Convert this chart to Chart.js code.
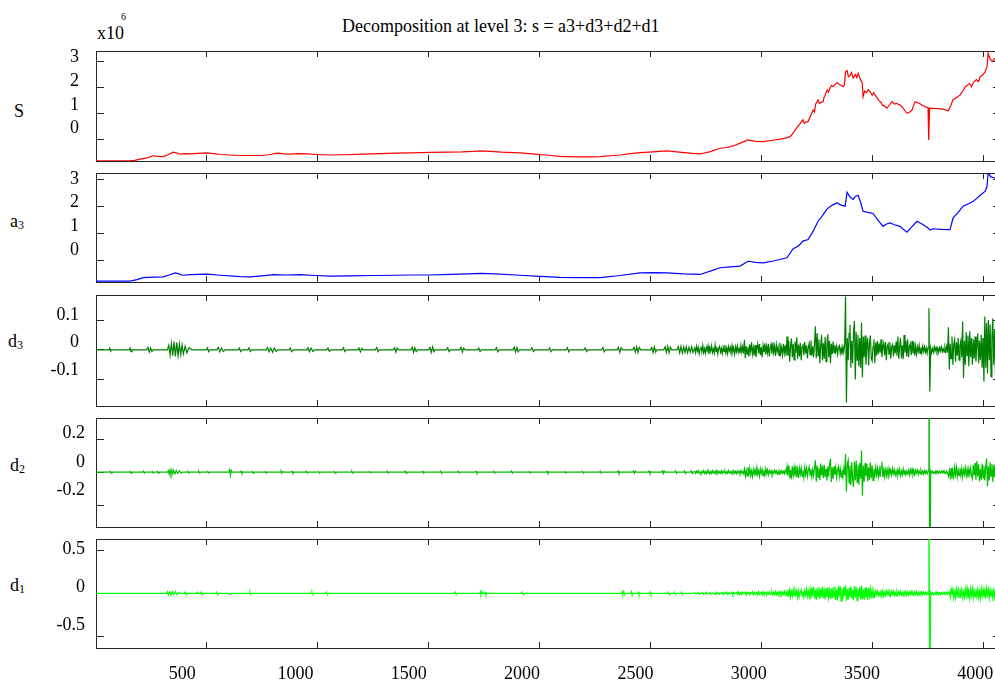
<!DOCTYPE html>
<html>
<head>
<meta charset="utf-8">
<script src="https://cdn.jsdelivr.net/npm/chart.js@4/dist/chart.umd.min.js"></script>
<style>
  html, body { margin: 0; padding: 0; width: 995px; height: 681px; overflow: hidden; background: #fff; }
  body { position: relative; }
  .txt { position: absolute; font: 18px/18px "Liberation Serif", "Times New Roman", serif; color: #000; white-space: nowrap; }
  .sub { font-size: 12px; position: relative; top: 2px; }
  canvas { position: absolute; left: 0; }
</style>
</head>
<body>
<div class="txt" style="left:342px;top:16.6px">Decomposition at level 3: s = a3+d3+d2+d1</div>
<div class="txt" style="left:97px;top:24.3px">x10</div>
<div class="txt" style="left:121px;top:12.3px;font-size:10px;line-height:10px">6</div>
<div class="txt" style="left:14px;top:102.2px">S</div>
<div class="txt" style="left:10px;top:211.6px">a<span class="sub">3</span></div>
<div class="txt" style="left:8px;top:331.6px">d<span class="sub">3</span></div>
<div class="txt" style="left:10px;top:456px">d<span class="sub">2</span></div>
<div class="txt" style="left:10px;top:576px">d<span class="sub">1</span></div>
<script>
const sampleMax = 4081;
const xTickValues = [500, 1000, 1500, 2000, 2500, 3000, 3500, 4000];

// tick values on each panel
const labelsS = [0, 1, 2, 3];
const labelsA3 = [0, 1, 2, 3];
const labelsD3 = [-0.1, 0, 0.1];
const labelsD2 = [-0.2, 0, 0.2];
const labelsD1 = [-0.5, 0, 0.5];

// signal (x1e6), sample index / value
const signalS = [
  [0, -0.84], [150, -0.84], [175, -0.82], [199, -0.77], [230, -0.72], [258, -0.64], [280, -0.66], [303, -0.67],
  [325, -0.6], [348, -0.5], [362, -0.53], [380, -0.58], [400, -0.56], [425, -0.57], [460, -0.55], [501, -0.53],
  [530, -0.56], [560, -0.59], [600, -0.61], [650, -0.63], [700, -0.63], [740, -0.63], [780, -0.6], [817, -0.54],
  [850, -0.57], [876, -0.58], [910, -0.56], [952, -0.57], [1000, -0.59], [1056, -0.61], [1120, -0.6], [1200, -0.58],
  [1280, -0.56], [1350, -0.54], [1420, -0.53], [1507, -0.51], [1580, -0.5], [1650, -0.49], [1700, -0.47], [1733, -0.45],
  [1780, -0.47], [1830, -0.5], [1913, -0.53], [1980, -0.58], [2040, -0.62], [2093, -0.66], [2160, -0.68], [2229, -0.68],
  [2274, -0.67], [2320, -0.64], [2363, -0.61], [2410, -0.56], [2453, -0.52], [2510, -0.49], [2575, -0.45], [2630, -0.5],
  [2690, -0.55], [2724, -0.57], [2770, -0.48], [2814, -0.35], [2845, -0.32], [2873, -0.26], [2905, -0.15], [2940, -0.03],
  [2975, -0.08], [3008, -0.09], [3045, -0.05], [3085, 0.0], [3110, 0.04], [3130, 0.1], [3145, 0.25], [3161, 0.46],
  [3175, 0.6], [3188, 0.75], [3194, 0.62], [3200, 0.66], [3211, 0.68], [3222, 0.9], [3234, 1.13], [3240, 1.05],
  [3245, 1.35], [3256, 1.52], [3262, 1.38], [3268, 1.42], [3279, 1.45], [3283, 1.62], [3288, 1.7], [3297, 1.9],
  [3303, 1.82], [3310, 1.97], [3317, 2.08], [3324, 2.03], [3333, 2.12], [3342, 2.19], [3355, 2.1], [3369, 2.03],
  [3375, 2.1], [3380, 2.6], [3387, 2.65], [3393, 2.42], [3400, 2.45], [3407, 2.58], [3414, 2.36], [3420, 2.44],
  [3425, 2.5], [3431, 2.38], [3437, 2.55], [3447, 2.3], [3455, 2.19], [3459, 1.64], [3466, 1.86], [3475, 1.8],
  [3483, 1.92], [3490, 1.84], [3500, 1.7], [3507, 1.8], [3513, 1.71], [3530, 1.5], [3540, 1.42], [3545, 1.32],
  [3556, 1.28], [3567, 1.2], [3580, 1.35], [3590, 1.45], [3600, 1.36], [3610, 1.38], [3626, 1.32], [3640, 1.2],
  [3650, 1.08], [3657, 1.0], [3670, 1.05], [3680, 1.13], [3693, 1.45], [3710, 1.4], [3725, 1.32], [3740, 1.25],
  [3752, 1.22], [3755, -0.03], [3759, 1.2], [3790, 1.18], [3820, 1.16], [3843, 1.1], [3855, 1.3], [3865, 1.54],
  [3880, 1.6], [3897, 1.71], [3910, 1.88], [3920, 2.03], [3940, 2.15], [3948, 2.02], [3956, 2.19], [3970, 2.3],
  [3980, 2.22], [3987, 2.42], [4000, 2.5], [4010, 2.61], [4018, 2.8], [4023, 3.32], [4032, 3.1], [4041, 3.0],
  [4054, 3.13], [4070, 3.2], [4081, 3.25]
];

// approximation a3 (x1e6)
const approxA3 = [
  [0, -0.78], [154, -0.78], [185, -0.72], [213, -0.65], [260, -0.63], [303, -0.62], [330, -0.55], [357, -0.47],
  [372, -0.5], [389, -0.56], [430, -0.54], [460, -0.53], [501, -0.52], [560, -0.56], [619, -0.59], [650, -0.61],
  [695, -0.62], [750, -0.58], [799, -0.54], [860, -0.55], [920, -0.54], [990, -0.57], [1056, -0.59], [1150, -0.58],
  [1250, -0.57], [1350, -0.56], [1420, -0.55], [1507, -0.55], [1600, -0.53], [1680, -0.51], [1733, -0.49], [1800, -0.51],
  [1913, -0.56], [2000, -0.6], [2093, -0.64], [2180, -0.65], [2274, -0.65], [2363, -0.57], [2453, -0.47], [2520, -0.46],
  [2575, -0.47], [2650, -0.51], [2724, -0.53], [2780, -0.38], [2814, -0.28], [2860, -0.25], [2904, -0.22], [2940, -0.04],
  [2975, -0.08], [3008, -0.1], [3060, -0.02], [3116, 0.09], [3143, 0.42], [3170, 0.55], [3188, 0.71], [3211, 0.77],
  [3234, 1.08], [3256, 1.45], [3275, 1.65], [3297, 1.91], [3320, 2.05], [3342, 2.13], [3360, 2.05], [3378, 2.01],
  [3387, 2.53], [3400, 2.35], [3414, 2.26], [3425, 2.38], [3437, 2.41], [3450, 2.1], [3459, 1.82], [3480, 1.78],
  [3504, 1.74], [3525, 1.5], [3549, 1.26], [3565, 1.35], [3581, 1.39], [3600, 1.32], [3626, 1.26], [3640, 1.15],
  [3657, 1.04], [3680, 1.25], [3702, 1.45], [3725, 1.35], [3752, 1.2], [3760, 1.12], [3775, 1.17], [3810, 1.15],
  [3851, 1.14], [3865, 1.58], [3885, 1.75], [3910, 2.01], [3935, 2.1], [3956, 2.19], [3985, 2.4], [4010, 2.57],
  [4018, 2.75], [4023, 3.25], [4035, 3.1], [4054, 3.06], [4081, 3.15]
];

// details: quiet stretch as index/value pairs, busy stretch sampled every 4 from 2700
const busyStart = 2700;
const busyStep = 4;

const detailD3Quiet = [
  [0, 0], [58, 0], [62, 0.005], [66, -0.005], [70, 0], [150, 0], [154, 0.006], [158, -0.006], [162, 0],
  [228, 0], [234, 0.008], [240, -0.008], [246, 0.007], [252, -0.006], [258, 0],
  [322, 0], [328, 0.015], [334, -0.018], [340, 0.022], [346, -0.02], [352, 0.028], [358, -0.022], [364, 0.024],
  [370, -0.02], [376, 0.02], [382, -0.016], [388, 0.017], [394, -0.014], [402, 0.012], [410, -0.01], [420, 0.008], [432, 0],
  [498, 0], [503, 0.007], [508, -0.006], [514, 0], [545, 0], [552, 0.008], [558, -0.007], [566, 0.006], [574, -0.006], [582, 0],
  [640, 0], [646, 0.006], [652, -0.006], [658, 0], [685, 0], [690, 0.007], [696, -0.006], [702, 0],
  [768, 0], [774, 0.008], [780, -0.007], [788, 0.006], [796, -0.008], [804, 0.006], [812, -0.005], [820, 0],
  [870, 0], [876, 0.006], [882, -0.006], [890, 0], [950, 0], [956, 0.007], [962, -0.007], [970, 0.006], [978, -0.006], [986, 0],
  [1040, 0], [1046, 0.006], [1052, -0.005], [1058, 0], [1110, 0], [1116, 0.007], [1122, -0.006], [1128, 0],
  [1180, 0], [1186, 0.006], [1192, -0.007], [1198, 0.005], [1204, 0], [1260, 0], [1266, 0.008], [1272, -0.006], [1278, 0],
  [1340, 0], [1346, 0.007], [1352, -0.008], [1358, 0.006], [1364, 0], [1420, 0], [1426, 0.009], [1432, -0.008],
  [1438, 0.007], [1444, -0.006], [1450, 0], [1500, 0], [1506, 0.008], [1512, -0.009], [1518, 0.01], [1524, -0.007], [1530, 0],
  [1580, 0], [1586, 0.007], [1592, -0.006], [1598, 0], [1640, 0], [1646, 0.008], [1652, -0.008], [1658, 0.006], [1664, 0],
  [1720, 0], [1726, 0.006], [1732, -0.006], [1738, 0], [1800, 0], [1806, 0.007], [1812, -0.007], [1818, 0],
  [1880, 0], [1886, 0.009], [1892, -0.008], [1898, 0.008], [1904, -0.007], [1910, 0], [1960, 0], [1966, 0.007], [1972, -0.006], [1978, 0],
  [2040, 0], [2046, 0.006], [2052, -0.006], [2058, 0], [2120, 0], [2126, 0.007], [2132, -0.007], [2138, 0],
  [2200, 0], [2206, 0.006], [2212, -0.006], [2218, 0], [2280, 0], [2286, 0.008], [2292, -0.007], [2298, 0],
  [2350, 0], [2356, 0.008], [2362, -0.009], [2368, 0.007], [2374, 0], [2420, 0], [2426, 0.009], [2432, -0.008],
  [2438, 0.01], [2444, -0.009], [2450, 0.008], [2456, 0], [2500, 0], [2506, 0.008], [2512, -0.009], [2518, 0.01], [2524, -0.008], [2530, 0],
  [2560, 0], [2566, 0.01], [2572, -0.009], [2578, 0.012], [2584, -0.01], [2590, 0.009], [2596, 0],
  [2620, 0], [2626, 0.011], [2632, -0.01], [2638, 0.012], [2644, -0.011], [2650, 0.01], [2656, -0.009], [2662, 0.011],
  [2668, -0.01], [2674, 0.009], [2680, -0.008], [2686, 0.01], [2692, -0.009]
];
const detailD3Busy = [
  0.006, -0.010, 0.012, -0.004, 0.008, -0.014, 0.003, 0.011, -0.007, 0.015, -0.009, 0.004, -0.012, 0.009, -0.003, 0.013,
  -0.015, 0.007, -0.005, 0.014, -0.009, 0.003, -0.011, 0.017, -0.006, 0.010, -0.014, 0.005, 0.012, -0.008, 0.004, -0.013,
  0.009, -0.005, 0.016, -0.010, 0.006, -0.013, 0.011, -0.004, 0.008, -0.012, 0.014, -0.007, 0.005, -0.015, 0.010, -0.006,
  0.013, -0.009, 0.004, -0.011, 0.015, -0.008, 0.010, -0.012,
  0.034, -0.028, 0.012, -0.015,
  0.010, -0.022, 0.018, -0.006, 0.025, -0.014, 0.008, -0.020, 0.016, -0.024, 0.005, 0.021, -0.012, 0.019, -0.018, 0.009,
  -0.025, 0.014, -0.008, 0.022, -0.016, 0.012, -0.010, 0.020, -0.022, 0.006, 0.018, -0.014, 0.024, -0.009, 0.013, -0.021,
  0.017, -0.006, 0.010, -0.019, 0.023, -0.012, 0.008, -0.016, 0.020, -0.011, 0.015, -0.020,
  0.045, -0.020, 0.030, -0.040, 0.012, 0.038, -0.025, 0.020, -0.034, 0.028, -0.010, 0.042, -0.030, 0.018, -0.022,
  0.024, -0.035, 0.010, 0.020, -0.018, 0.026, -0.012, 0.015, -0.028, 0.008, 0.022, -0.016, 0.030, -0.020, 0.012, -0.025, 0.018,
  0.079, -0.028,
  0.056, -0.020, 0.035, -0.045, 0.015, 0.050, -0.036, 0.022, -0.030, 0.044, -0.040, 0.018, 0.052, -0.025, 0.030, -0.045,
  0.020, -0.015, 0.028,
  -0.010, 0.016, -0.006, 0.012, -0.015, 0.008, 0.014, -0.012, 0.006, -0.016, 0.010, -0.008, 0.020,
  0.179, -0.177,
  0.040, -0.035, 0.055, 0.084, -0.060, 0.030, -0.045, 0.060, 0.097, -0.100,
  0.060, -0.035, 0.050, -0.055, 0.040, -0.060, 0.092, -0.092, 0.045,
  -0.025, 0.048, -0.050, 0.015, 0.040, -0.052, 0.020, 0.048, -0.030, -0.038, 0.012, 0.035, -0.045, 0.025, -0.020, 0.030, -0.015,
  0.022, -0.010, 0.035, -0.024, 0.008, 0.022, -0.018, 0.026, -0.035, 0.012, 0.020, -0.015, 0.025, -0.030, 0.010, 0.018,
  -0.022, 0.015, -0.012, 0.028, -0.020,
  0.045, -0.030, 0.012, 0.040, -0.028, 0.015, -0.032, 0.050, -0.010, 0.030, -0.022, 0.035, -0.025, 0.010, 0.020, -0.018,
  0.030, -0.012, 0.025, -0.020, 0.012, -0.015, 0.010,
  -0.006, 0.015, -0.012, 0.008, -0.010, 0.012, -0.005, 0.010, -0.008, 0.006, -0.012, 0.008,
  0.140, -0.140,
  0.006, -0.010, 0.004, -0.008, 0.010, -0.004, 0.008, -0.006, 0.005, -0.009, 0.007, -0.004, 0.010, -0.006, 0.004, -0.008,
  0.009, -0.005, 0.012, -0.010,
  0.076, -0.067, 0.020,
  -0.030, 0.045, -0.050, 0.020, 0.035, -0.040, 0.025, -0.020, 0.040, -0.035, 0.015, 0.030, -0.025,
  0.095, -0.095,
  0.030, -0.050, 0.060, -0.020, 0.048, -0.055, 0.062, -0.025, 0.040, -0.050, 0.035, -0.030, 0.045, -0.040, 0.020, 0.055,
  -0.045, 0.030, -0.035, 0.050, -0.060, 0.040,
  -0.107, 0.112,
  -0.060, 0.090, -0.080, 0.100, -0.035, 0.085, -0.090, 0.040, 0.105, -0.050, 0.070, -0.085, 0.060, -0.075, 0.095, -0.040, 0.080
];

const detailD2Quiet = [
  [0, 0], [60, 0], [64, 0.006], [68, -0.005], [72, 0], [150, 0], [154, 0.005], [158, -0.005], [162, 0],
  [210, 0], [214, 0.006], [218, -0.006], [222, 0], [250, 0], [254, 0.005], [258, -0.006], [262, 0],
  [272, 0], [276, 0.005], [280, -0.005], [284, 0],
  [322, 0], [326, 0.01], [330, -0.012], [334, 0.014], [338, -0.012], [342, 0.012], [346, -0.01], [350, 0.012],
  [356, -0.01], [362, 0.01], [368, -0.008], [376, 0.008], [384, -0.006], [390, 0],
  [410, 0], [414, 0.006], [418, -0.006], [422, 0], [460, 0], [464, 0.006], [468, -0.006], [472, 0],
  [500, 0], [504, 0.005], [508, -0.005], [512, 0], [598, 0], [602, 0.015], [606, -0.02], [610, 0.012], [614, 0],
  [650, 0], [654, 0.006], [658, -0.006], [662, 0], [700, 0], [704, 0.005], [708, -0.005], [712, 0],
  [760, 0], [764, 0.005], [768, -0.006], [772, 0], [830, 0], [834, 0.006], [838, -0.006], [842, 0.005], [846, 0],
  [880, 0], [884, 0.006], [888, -0.005], [892, 0], [945, 0], [949, 0.006], [953, -0.006], [957, 0],
  [1000, 0], [1004, 0.005], [1008, -0.006], [1012, 0], [1070, 0], [1074, 0.005], [1078, -0.005], [1082, 0],
  [1150, 0], [1154, 0.006], [1158, -0.006], [1162, 0], [1230, 0], [1234, 0.005], [1238, -0.005], [1242, 0],
  [1310, 0], [1314, 0.006], [1318, -0.006], [1322, 0], [1390, 0], [1394, 0.007], [1398, -0.006], [1402, 0],
  [1470, 0], [1474, 0.006], [1478, -0.006], [1482, 0], [1550, 0], [1554, 0.007], [1558, -0.007], [1562, 0],
  [1630, 0], [1634, 0.006], [1638, -0.006], [1642, 0], [1710, 0], [1714, 0.006], [1718, -0.005], [1722, 0],
  [1790, 0], [1794, 0.006], [1798, -0.006], [1802, 0], [1870, 0], [1874, 0.007], [1878, -0.006], [1882, 0],
  [1950, 0], [1954, 0.005], [1958, -0.005], [1962, 0], [2030, 0], [2034, 0.006], [2038, -0.006], [2042, 0],
  [2110, 0], [2114, 0.005], [2118, -0.005], [2122, 0], [2190, 0], [2194, 0.006], [2198, -0.005], [2202, 0],
  [2270, 0], [2274, 0.006], [2278, -0.006], [2282, 0], [2350, 0], [2354, 0.007], [2358, -0.007], [2362, 0],
  [2420, 0], [2424, 0.008], [2428, -0.007], [2432, 0.006], [2436, 0], [2490, 0], [2494, 0.007], [2498, -0.007], [2502, 0],
  [2550, 0], [2554, 0.008], [2558, -0.008], [2562, 0.007], [2566, 0], [2610, 0], [2614, 0.008], [2618, -0.007], [2622, 0],
  [2650, 0], [2654, 0.008], [2658, -0.008], [2662, 0], [2680, 0], [2684, 0.008], [2688, -0.007], [2692, 0]
];
const detailD2Busy = [
  0.004, -0.008, 0.006, -0.003, 0.009, -0.006, 0.002, -0.008, 0.005, -0.004, 0.010, -0.007, 0.003, -0.009, 0.008, -0.005,
  0.006, -0.010, 0.004, -0.007, 0.010, -0.005, 0.004, -0.008, 0.009, -0.004, 0.008, -0.007, 0.003, -0.006, 0.009, -0.008,
  0.005, -0.003, 0.007, -0.009, 0.004, -0.006, 0.010, -0.005, 0.003, -0.008, 0.006, -0.004, 0.009, -0.007, 0.005, -0.010,
  0.008, -0.004, 0.006, -0.008, 0.010, -0.006, 0.004, -0.009,
  0.020, -0.025, 0.012, -0.022, 0.030, -0.010, 0.025, -0.020, 0.008, -0.026, 0.018, -0.012, 0.015, -0.022, 0.028, -0.015,
  0.010, -0.024, 0.020, -0.008, 0.016, -0.020, 0.012, -0.018, 0.022, -0.010, 0.014, -0.016, 0.010,
  -0.006, 0.010, -0.012, 0.004, -0.008, 0.012, -0.005, 0.009, -0.011, 0.006, -0.012, 0.008, -0.004, 0.010, -0.007, 0.005,
  -0.009, 0.011, -0.006,
  0.035, -0.020, 0.042, -0.035, 0.015, -0.042, 0.036, -0.018, 0.030, -0.025, 0.040, -0.030, 0.018, -0.035, 0.025,
  -0.012, 0.028, -0.025, 0.010, -0.032, 0.030, -0.015, 0.022, -0.026, 0.012, 0.032, -0.018, 0.020, -0.028, 0.015, -0.020, 0.024,
  0.072, -0.058, 0.040, -0.030,
  0.025, -0.048, 0.052, -0.020, 0.040, -0.035, 0.045, -0.030, 0.020, -0.050, 0.035, -0.025, 0.048, 0.082, -0.060, 0.030, -0.040,
  0.035, -0.015, 0.030, -0.032, 0.012, 0.035, -0.025, 0.020, -0.030, 0.015, -0.028, 0.022, -0.018,
  0.110, -0.118,
  0.050, 0.072, -0.065, 0.040, -0.080, 0.060, -0.045, -0.088, 0.065, -0.050,
  0.070, -0.060, 0.045, -0.075, 0.055, -0.040,
  0.130, -0.140,
  0.040, -0.058, 0.055, -0.025, 0.050, -0.055, 0.030, -0.045, 0.060, -0.035, 0.040, -0.050,
  0.020, -0.032, 0.030, -0.015, 0.025, -0.030, 0.018, -0.028, 0.035, 0.062, -0.030, 0.012, -0.028, 0.030, -0.020, 0.015,
  -0.025, 0.022, -0.012,
  0.010, -0.018, 0.022, -0.008, 0.015, -0.018, 0.006, -0.020, 0.016, -0.010, 0.018, -0.020, 0.008, -0.016, 0.020, -0.012,
  0.014, -0.016, 0.006, -0.010, 0.012, -0.018, 0.015, -0.008, 0.020, -0.014, 0.010, -0.016, 0.012, -0.006, 0.014, -0.012,
  0.008, -0.010, 0.012, -0.008, 0.006, -0.012, 0.010, -0.006, 0.008, -0.010, 0.006,
  1.000, -1.000,
  0.008, -0.004, 0.006, -0.007, 0.003, -0.008, 0.007, -0.003, 0.008, -0.005, 0.004, -0.006, 0.007, -0.004, 0.008, -0.006,
  0.003, -0.007, 0.006, -0.004,
  -0.025, 0.012, -0.030, 0.025, -0.040, 0.010, -0.028, 0.032, -0.015, 0.030, -0.028, 0.012, -0.020, 0.025, -0.018, 0.022,
  -0.030, 0.015, -0.012, 0.028, -0.022, 0.018, -0.032, 0.020, -0.015, 0.026, -0.020,
  -0.040, 0.045, -0.020, 0.055, -0.045, 0.068, -0.025, 0.048, -0.055, 0.020, -0.045, 0.050, -0.035, 0.040, -0.050, 0.030,
  0.082, -0.084, 0.035, -0.050, 0.060, -0.025, 0.050, -0.058, 0.045, -0.030, 0.055, -0.048, 0.040, -0.060, 0.050, -0.035
];

const detailD1Quiet = [
  [0, 0], [318, 0], [322, 0.02], [326, -0.02], [332, 0.018], [338, -0.02], [344, 0.022], [350, -0.018], [358, 0.02],
  [366, -0.015], [374, 0.015], [380, 0], [398, 0], [402, 0.015], [406, -0.015], [410, 0], [452, 0], [455, 0.01],
  [458, 0.015], [462, 0], [470, 0], [474, 0.015], [478, -0.015], [482, 0], [540, 0], [544, 0.015], [548, -0.015], [552, 0],
  [596, 0], [600, -0.008], [606, -0.012], [612, 0], [690, 0], [694, 0.015], [698, -0.015], [702, 0],
  [970, 0], [974, 0.015], [978, -0.015], [982, 0], [1036, 0], [1040, 0.015], [1044, -0.015], [1048, 0],
  [1616, 0], [1620, 0.015], [1624, -0.015], [1628, 0], [1730, 0], [1733, 0.02], [1736, -0.02], [1740, 0.02], [1744, 0],
  [1752, 0], [1755, 0.015], [1758, -0.015], [1762, 0], [1918, 0], [1922, 0.015], [1926, -0.015], [1930, 0],
  [2370, 0], [2373, 0.02], [2376, -0.02], [2380, 0.02], [2384, -0.015], [2388, 0], [2412, 0], [2415, 0.02], [2418, -0.02], [2422, 0],
  [2442, 0], [2445, 0.015], [2448, -0.015], [2452, 0], [2496, 0], [2499, 0.015], [2502, -0.015], [2506, 0],
  [2576, 0], [2580, 0.015], [2584, -0.015], [2588, 0], [2604, 0], [2608, 0.015], [2612, -0.015], [2616, 0],
  [2636, 0], [2640, 0.015], [2644, -0.015], [2648, 0], [2692, 0]
];
const detailD1Busy = [
  0.008, -0.006, 0, 0, 0.012, -0.010, 0, 0, 0, 0.010, -0.012, 0, 0, 0.015, -0.008, 0,
  0, 0.010, -0.010, 0, 0.006, 0, 0, -0.012, 0.014, 0, 0, 0.008, -0.010, 0, 0, 0.012,
  -0.015, 0.010, 0, 0, 0.016, -0.012, 0, 0.008, -0.006, 0, 0.014, -0.016, 0.010, 0, 0, 0.012,
  -0.010, 0.018, -0.014, 0, 0.010, -0.012, 0.015, 0, 0, 0.016, -0.018, 0.012, 0, 0.010, -0.014, 0.008,
  0, 0.018, -0.016, 0.012, -0.010, 0, 0.015, -0.018, 0.020, -0.012, 0, 0.014, -0.016, 0.018, -0.010, 0.006,
  0.016, -0.020, 0.012, -0.008, 0.018, -0.015, 0, 0.020, -0.018, 0.014, -0.012, 0.022, -0.016, 0.010, -0.020, 0.018,
  -0.012, 0.020, -0.022, 0.015, -0.010, 0.024, -0.018, 0.016,
  -0.030, 0.045, -0.015, 0.042, -0.040, 0.020, -0.035, 0.045, -0.025, 0.038, -0.012, 0.040, -0.045, 0.030, -0.038, 0.015,
  0.042, -0.030, 0.025, -0.040, 0.035, -0.020, 0.045, -0.035, 0.028, -0.042,
  0.050, -0.065, 0.070, -0.030, 0.078, -0.060, 0.040, -0.075, 0.065, -0.035, 0.075, -0.065, 0.050, -0.045, 0.080, -0.055,
  0.030, -0.070, 0.060, -0.040, 0.072, -0.050, 0.035, -0.065, 0.055, -0.060,
  0.070, -0.040, 0.080, -0.075, 0.045, -0.085, 0.090, -0.035, 0.080, -0.090, 0.060, -0.070, 0.075, -0.030, 0.095, -0.085,
  0.050, -0.075, 0.065, -0.045, 0.080, -0.060, 0.040, -0.080, 0.088, -0.050, 0.070, -0.085, 0.055, -0.040, 0.075, -0.070,
  0.090, -0.065, 0.045, -0.080, 0.070, -0.050, 0.060, -0.075, 0.065, -0.030, 0.055, -0.060, 0.040, -0.050,
  0.015, -0.030, 0.028, -0.010, 0.030, -0.025, 0.008, -0.030, 0.026, -0.012, 0.030, -0.032, 0.010, -0.028, 0.030, -0.008,
  0.028, -0.030, 0.012, -0.028, 0.025, -0.010, 0.028, -0.025, 0.010, -0.028, 0.026, -0.012, 0.020, -0.015, 0.022, -0.018,
  0.010, -0.025, 0.020, -0.008, 0.024, -0.020, 0.012, -0.022, 0.018, -0.010, 0.025, -0.015, 0.008, -0.020, 0.022, -0.012,
  0.016, -0.020, 0.010, -0.018, 0.020, -0.008, 0.015, -0.012, 0.018, -0.010, 0.012, -0.015, 0.010, -0.008,
  1.500, -1.500,
  0.015, -0.006, 0.010, -0.015, 0.004, -0.012, 0.015, -0.006, 0.012, -0.010, 0.008, -0.014, 0.010, -0.005, 0.012, -0.008,
  0.006, -0.012, 0.014, -0.010, 0.008,
  0.020, -0.045, 0.050, -0.015, 0.048, -0.055, 0.020, -0.050, 0.052, -0.020, 0.040, -0.048, 0.055, -0.020, 0.045, -0.052,
  0.018, -0.045, 0.055, -0.025, 0.060, -0.055, 0.020, -0.058, 0.055, -0.025, 0.060, -0.055, 0.030, -0.040, 0.050, -0.035,
  0.045, -0.050, 0.025, -0.060, 0.055, -0.030, 0.048, -0.045, 0.035, -0.058, 0.060, -0.020, 0.050, -0.055, 0.040, -0.030,
  0.055, -0.050, 0.030, -0.045, 0.060, -0.040, 0.050, -0.035, 0.045, -0.050
];

function toPoints(pairs) {
  return pairs.map(([x, y]) => ({ x, y }));
}

function detailPoints(quiet, busy) {
  const pts = toPoints(quiet);
  busy.forEach((y, k) => pts.push({ x: busyStart + k * busyStep, y }));
  return pts;
}

const frameColor = "#262626";
const serif = "'Liberation Serif', 'Times New Roman', serif";

// one chart per subplot; tick ranges put the marks on the frame,
// label ranges place the tick text the way the figure prints it
const panels = [
  { top: 51, height: 110, color: "#ff0000", points: toPoints(signalS),
    tickMin: -0.842, tickMax: 3.408, labels: labelsS,
    labelMin: -1.375, labelMax: 3.278, labelPad: 17 },
  { top: 173, height: 109, color: "#0000ff", points: toPoints(approxA3),
    tickMin: -0.811, tickMax: 3.245, labels: labelsA3,
    labelMin: -1.34, labelMax: 3.246, labelPad: 17 },
  { top: 295, height: 111, color: "#008000", points: detailPoints(detailD3Quiet, detailD3Busy),
    tickMin: -0.189, tickMax: 0.1843, labels: labelsD3,
    labelMin: -0.2293, labelMax: 0.1717, labelPad: 17 },
  { top: 418, height: 109, color: "#00c000", points: detailPoints(detailD2Quiet, detailD2Busy),
    tickMin: -0.33, tickMax: 0.3265, labels: labelsD2,
    labelMin: -0.454, labelMax: 0.307, labelPad: 11 },
  { top: 539, height: 109, color: "#00ff00", points: detailPoints(detailD1Quiet, detailD1Busy),
    tickMin: -0.635, tickMax: 0.6326, labels: labelsD1,
    labelMin: -0.791, labelMax: 0.63, labelPad: 11 },
];

function inward(len) {
  return { drawOnChartArea: false, drawTicks: true, tickLength: -len, color: frameColor, lineWidth: 1 };
}

// ticks exactly at the listed values
function fixedTicks(values) {
  return (s) => { s.ticks = values.map((value) => ({ value })); };
}

// fixed box sizes so every chart area lines up
function fixSize(prop, size) {
  return (s) => {
    s[prop] = size;
    s.paddingTop = 0;
    s.paddingBottom = 0;
    s.paddingLeft = 0;
    s.paddingRight = 0;
  };
}

function createPanel(panel, isLast) {
  const canvas = document.createElement("canvas");
  const top = panel.top - 6;
  const height = isLast ? 681 - top : panel.height + 12;
  canvas.width = 1010;
  canvas.height = height;
  canvas.style.top = top + "px";
  document.body.appendChild(canvas);

  const frame = { display: true, color: frameColor, width: 1 };
  const hidden = { display: false };
  const tickFont = { family: serif, size: 18 };

  const scales = {
    xData: {
      type: "linear", position: "bottom", min: 0, max: sampleMax, weight: 0,
      ticks: { display: false }, afterBuildTicks: fixedTicks(xTickValues),
      grid: inward(6), border: frame,
      afterFit: fixSize("height", 6),
    },
    xTop: {
      type: "linear", position: "top", min: 0, max: sampleMax,
      ticks: { display: false }, afterBuildTicks: fixedTicks(xTickValues),
      grid: inward(6), border: frame,
      afterFit: fixSize("height", 6),
    },
    y: {
      type: "linear", position: "left", min: panel.tickMin, max: panel.tickMax, weight: 0,
      ticks: { display: false }, afterBuildTicks: fixedTicks(panel.labels),
      grid: inward(8), border: frame,
      afterFit: fixSize("width", 0),
    },
    yRight: {
      type: "linear", position: "right", min: panel.tickMin, max: panel.tickMax,
      ticks: { display: false }, afterBuildTicks: fixedTicks(panel.labels),
      grid: inward(8), border: frame,
      afterFit: fixSize("width", 9),
    },
    yLabel: {
      type: "linear", position: "left", min: panel.labelMin, max: panel.labelMax, weight: 10,
      ticks: { padding: panel.labelPad, color: "#000", font: tickFont, callback: (v) => String(v) },
      afterBuildTicks: fixedTicks(panel.labels),
      grid: { display: false, drawTicks: false }, border: hidden,
      afterFit: fixSize("width", 96),
    },
    // sample numbers under the bottom subplot
    x: {
      type: "linear", position: "bottom", min: 119, max: 4114, weight: 10, display: isLast,
      ticks: {
        padding: 9, maxRotation: 0, autoSkip: false,
        color: "#000", font: tickFont, callback: (v) => String(v),
      },
      afterBuildTicks: fixedTicks(xTickValues),
      grid: { display: false, drawTicks: false }, border: hidden,
      afterFit: fixSize("height", isLast ? height - 12 - panel.height : 0),
    },
  };

  return new Chart(canvas.getContext("2d"), {
    type: "line",
    data: {
      datasets: [{
        data: panel.points,
        xAxisID: "xData",
        borderColor: panel.color,
        borderWidth: 1.2,
        pointRadius: 0,
        tension: 0,
        fill: false,
        clip: 0,
      }],
    },
    options: {
      responsive: false,
      animation: false,
      devicePixelRatio: 1,
      events: [],
      layout: { padding: 0, autoPadding: false },
      plugins: { legend: { display: false }, tooltip: { enabled: false } },
      scales,
    },
  });
}

panels.forEach((p, i) => createPanel(p, i === panels.length - 1));
</script>
</body>
</html>
